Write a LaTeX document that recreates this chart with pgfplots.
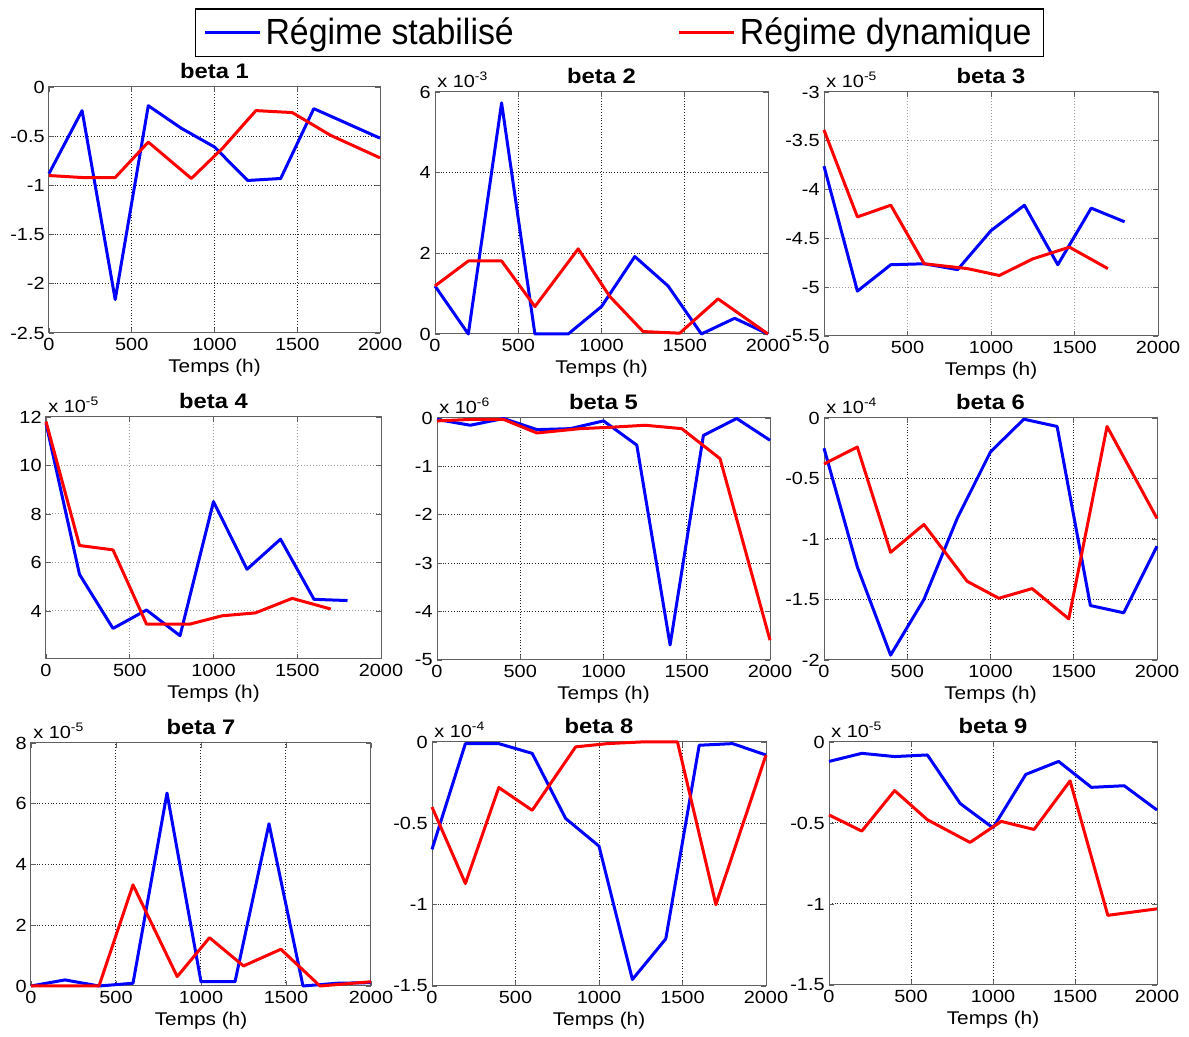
\documentclass[border=0pt]{standalone}
\usepackage{pgfplots}
\pgfplotsset{compat=1.18}
\usepackage{fontspec}
\setmainfont{Liberation Sans}
\newfontfamily\legfont[FakeStretch=0.93]{Liberation Sans}
\newfontfamily\tf[FakeStretch=1.13]{Liberation Sans}
\definecolor{mblue}{RGB}{0,0,255}
\definecolor{mred}{RGB}{255,0,0}
\pgfplotsset{
 mat/.style={
  scale only axis, anchor=south west, clip=false,
  xmin=0, xmax=2000, xtick={0,500,1000,1500,2000}, xticklabels={0,500,1000,1500,2000},
  grid=major, major grid style={densely dotted, black!85, line width=0.5pt},
  axis line style={gray!75!black, line width=0.5pt},
  tick align=inside, major tick length=2.5pt, tick style={gray!75!black, line width=0.4pt},
  ticklabel style={font=\tf\fontsize{8.8}{10}\selectfont},
  xticklabel style={inner sep=2.2pt},
  yticklabel style={inner sep=2pt},
  xlabel={Temps (h)},
  xlabel style={font=\tf\fontsize{9.2}{11}\selectfont, at={(axis description cs:0.5,0)}, anchor=center, yshift=-17.5pt},
  title style={font=\tf\bfseries\fontsize{10.5}{12}\selectfont, at={(axis description cs:0.5,1)}, anchor=base, yshift=-2pt, inner sep=0pt},
  every axis plot/.append style={line width=1.5pt, line join=round},
 },
 lightgrid/.style={major grid style={densely dotted, black!40, line width=0.5pt}},
}
\newcommand{\mult}[1]{\node[anchor=base west, inner sep=0pt, xshift=1pt, yshift=2pt, font=\tf\fontsize{8.8}{10}\selectfont] at (axis description cs:0,1) {x 10\textsuperscript{#1}};}
\begin{document}
\begin{tikzpicture}
\useasboundingbox (0,0) rectangle (594.5pt,518.5pt);
% beta 1
\begin{axis}[mat, at={(24.5pt,352pt)}, width=165.5pt, height=123pt, title={beta 1},
  ymin=-2.5, ymax=0, ytick={-2.5,-2,-1.5,-1,-0.5,0}, yticklabels={-2.5,-2,-1.5,-1,-0.5,0},
  legend columns=2,
  legend style={at={(axis description cs:1.7236,1.2195)}, anchor=center, draw=black, line width=0.6pt,
    font=\legfont\fontsize{18.2}{20}\selectfont, inner xsep=4pt, inner ysep=2.5pt,
    nodes={inner xsep=2pt, inner ysep=2pt},
    /tikz/every even column/.append style={column sep=80pt}},
  legend image code/.code={\draw[#1] (0pt,0pt) -- (27.5pt,0pt);}]
\addplot[mblue] coordinates {(0,-0.88)(200,-0.24)(400,-2.16)(600,-0.19)(800,-0.42)(1000,-0.61)(1200,-0.95)(1400,-0.93)(1600,-0.22)(1800,-0.37)(2000,-0.52)};
\addlegendentry{Régime stabilisé}
\addplot[mred] coordinates {(0,-0.90)(200,-0.92)(400,-0.92)(600,-0.56)(860,-0.93)(1050,-0.62)(1250,-0.24)(1470,-0.26)(1700,-0.49)(2000,-0.72)};
\addlegendentry{Régime dynamique}
\end{axis}
% beta 2
\begin{axis}[mat, at={(217.5pt,351.5pt)}, width=166.5pt, height=121pt, title={beta 2},
  ymin=0, ymax=6, ytick={0,2,4,6}, yticklabels={0,2,4,6}]
\addplot[mblue] coordinates {(0,1.19)(200,0)(400,5.73)(600,0)(800,0)(1000,0.68)(1200,1.92)(1400,1.19)(1600,0)(1800,0.39)(2000,0)};
\addplot[mred] coordinates {(0,1.19)(200,1.81)(400,1.81)(600,0.68)(860,2.11)(1050,0.93)(1250,0.06)(1470,0.02)(1700,0.87)(2000,0.0)};
\mult{-3}
\end{axis}
% beta 3
\begin{axis}[mat, lightgrid, at={(412pt,350.5pt)}, width=167pt, height=122pt, title={beta 3},
  ymin=-5.5, ymax=-3, ytick={-5.5,-5,-4.5,-4,-3.5,-3}, yticklabels={-5.5,-5,-4.5,-4,-3.5,-3}]
\addplot[mblue] coordinates {(0,-3.76)(200,-5.04)(400,-4.77)(600,-4.76)(800,-4.82)(1000,-4.42)(1200,-4.16)(1400,-4.77)(1600,-4.19)(1800,-4.33)};
\addplot[mred] coordinates {(0,-3.39)(200,-4.28)(400,-4.16)(600,-4.76)(860,-4.81)(1050,-4.88)(1250,-4.71)(1470,-4.59)(1700,-4.81)};
\mult{-5}
\end{axis}
% beta 4
\begin{axis}[mat, lightgrid, at={(23pt,189pt)}, width=167.5pt, height=121pt, title={beta 4},
  ymin=2.02, ymax=12, ytick={4,6,8,10,12}, yticklabels={4,6,8,10,12}]
\addplot[mblue] coordinates {(0,11.74)(200,5.51)(400,3.28)(600,4.04)(800,2.98)(1000,8.51)(1200,5.72)(1400,6.96)(1600,4.48)(1800,4.43)};
\addplot[mred] coordinates {(0,11.81)(200,6.70)(400,6.52)(600,3.46)(860,3.46)(1050,3.8)(1250,3.92)(1470,4.52)(1700,4.08)};
\mult{-5}
\end{axis}
% beta 5
\begin{axis}[mat, at={(218.5pt,188.5pt)}, width=166.5pt, height=121pt, title={beta 5},
  ymin=-5, ymax=0, ytick={-5,-4,-3,-2,-1,0}, yticklabels={-5,-4,-3,-2,-1,0}]
\addplot[mblue] coordinates {(0,-0.03)(200,-0.15)(400,-0.01)(600,-0.24)(800,-0.22)(1000,-0.06)(1200,-0.56)(1400,-4.69)(1600,-0.36)(1800,-0.01)(2000,-0.46)};
\addplot[mred] coordinates {(0,-0.06)(200,-0.03)(400,-0.03)(600,-0.31)(860,-0.22)(1050,-0.19)(1250,-0.15)(1470,-0.22)(1700,-0.84)(2000,-4.59)};
\mult{-6}
\end{axis}
% beta 6
\begin{axis}[mat, at={(412pt,188.5pt)}, width=166.5pt, height=121pt, title={beta 6},
  ymin=-2, ymax=0, ytick={-2,-1.5,-1,-0.5,0}, yticklabels={-2,-1.5,-1,-0.5,0}]
\addplot[mblue] coordinates {(0,-0.25)(200,-1.23)(400,-1.96)(600,-1.50)(800,-0.83)(1000,-0.28)(1200,-0.01)(1400,-0.07)(1600,-1.55)(1800,-1.61)(2000,-1.06)};
\addplot[mred] coordinates {(0,-0.38)(200,-0.24)(400,-1.11)(600,-0.88)(860,-1.35)(1050,-1.49)(1250,-1.41)(1470,-1.66)(1700,-0.07)(2000,-0.83)};
\mult{-4}
\end{axis}
% beta 7
\begin{axis}[mat, at={(15.5pt,25.5pt)}, width=170pt, height=121.5pt, title={beta 7},
  ymin=0, ymax=8, ytick={0,2,4,6,8}, yticklabels={0,2,4,6,8}]
\addplot[mblue] coordinates {(0,0)(200,0.2)(400,0)(600,0.09)(800,6.35)(1000,0.14)(1200,0.14)(1400,5.34)(1600,0)(1800,0.09)(2000,0.11)};
\addplot[mred] coordinates {(0,0)(200,0)(400,0)(600,3.33)(860,0.31)(1050,1.59)(1250,0.66)(1470,1.21)(1700,0)(2000,0.14)};
\mult{-5}
\end{axis}
% beta 8
\begin{axis}[mat, at={(216pt,25.5pt)}, width=167pt, height=122pt, title={beta 8},
  ymin=-1.5, ymax=0, ytick={-1.5,-1,-0.5,0}, yticklabels={-1.5,-1,-0.5,0}]
\addplot[mblue] coordinates {(0,-0.66)(200,-0.01)(400,-0.01)(600,-0.07)(800,-0.47)(1000,-0.64)(1200,-1.46)(1400,-1.21)(1600,-0.02)(1800,-0.01)(2000,-0.08)};
\addplot[mred] coordinates {(0,-0.40)(200,-0.87)(400,-0.28)(600,-0.42)(860,-0.03)(1050,-0.01)(1250,0)(1470,0)(1700,-1.00)(2000,-0.08)};
\mult{-4}
\end{axis}
% beta 9
\begin{axis}[mat, at={(414.5pt,26pt)}, width=164pt, height=121.5pt, title={beta 9},
  ymin=-1.5, ymax=0, ytick={-1.5,-1,-0.5,0}, yticklabels={-1.5,-1,-0.5,0}]
\addplot[mblue] coordinates {(0,-0.12)(200,-0.07)(400,-0.09)(600,-0.08)(800,-0.38)(1000,-0.53)(1200,-0.20)(1400,-0.12)(1600,-0.28)(1800,-0.27)(2000,-0.42)};
\addplot[mred] coordinates {(0,-0.45)(200,-0.55)(400,-0.30)(600,-0.48)(860,-0.62)(1050,-0.49)(1250,-0.54)(1470,-0.24)(1700,-1.07)(2000,-1.03)};
\mult{-5}
\end{axis}
\end{tikzpicture}
\end{document}
